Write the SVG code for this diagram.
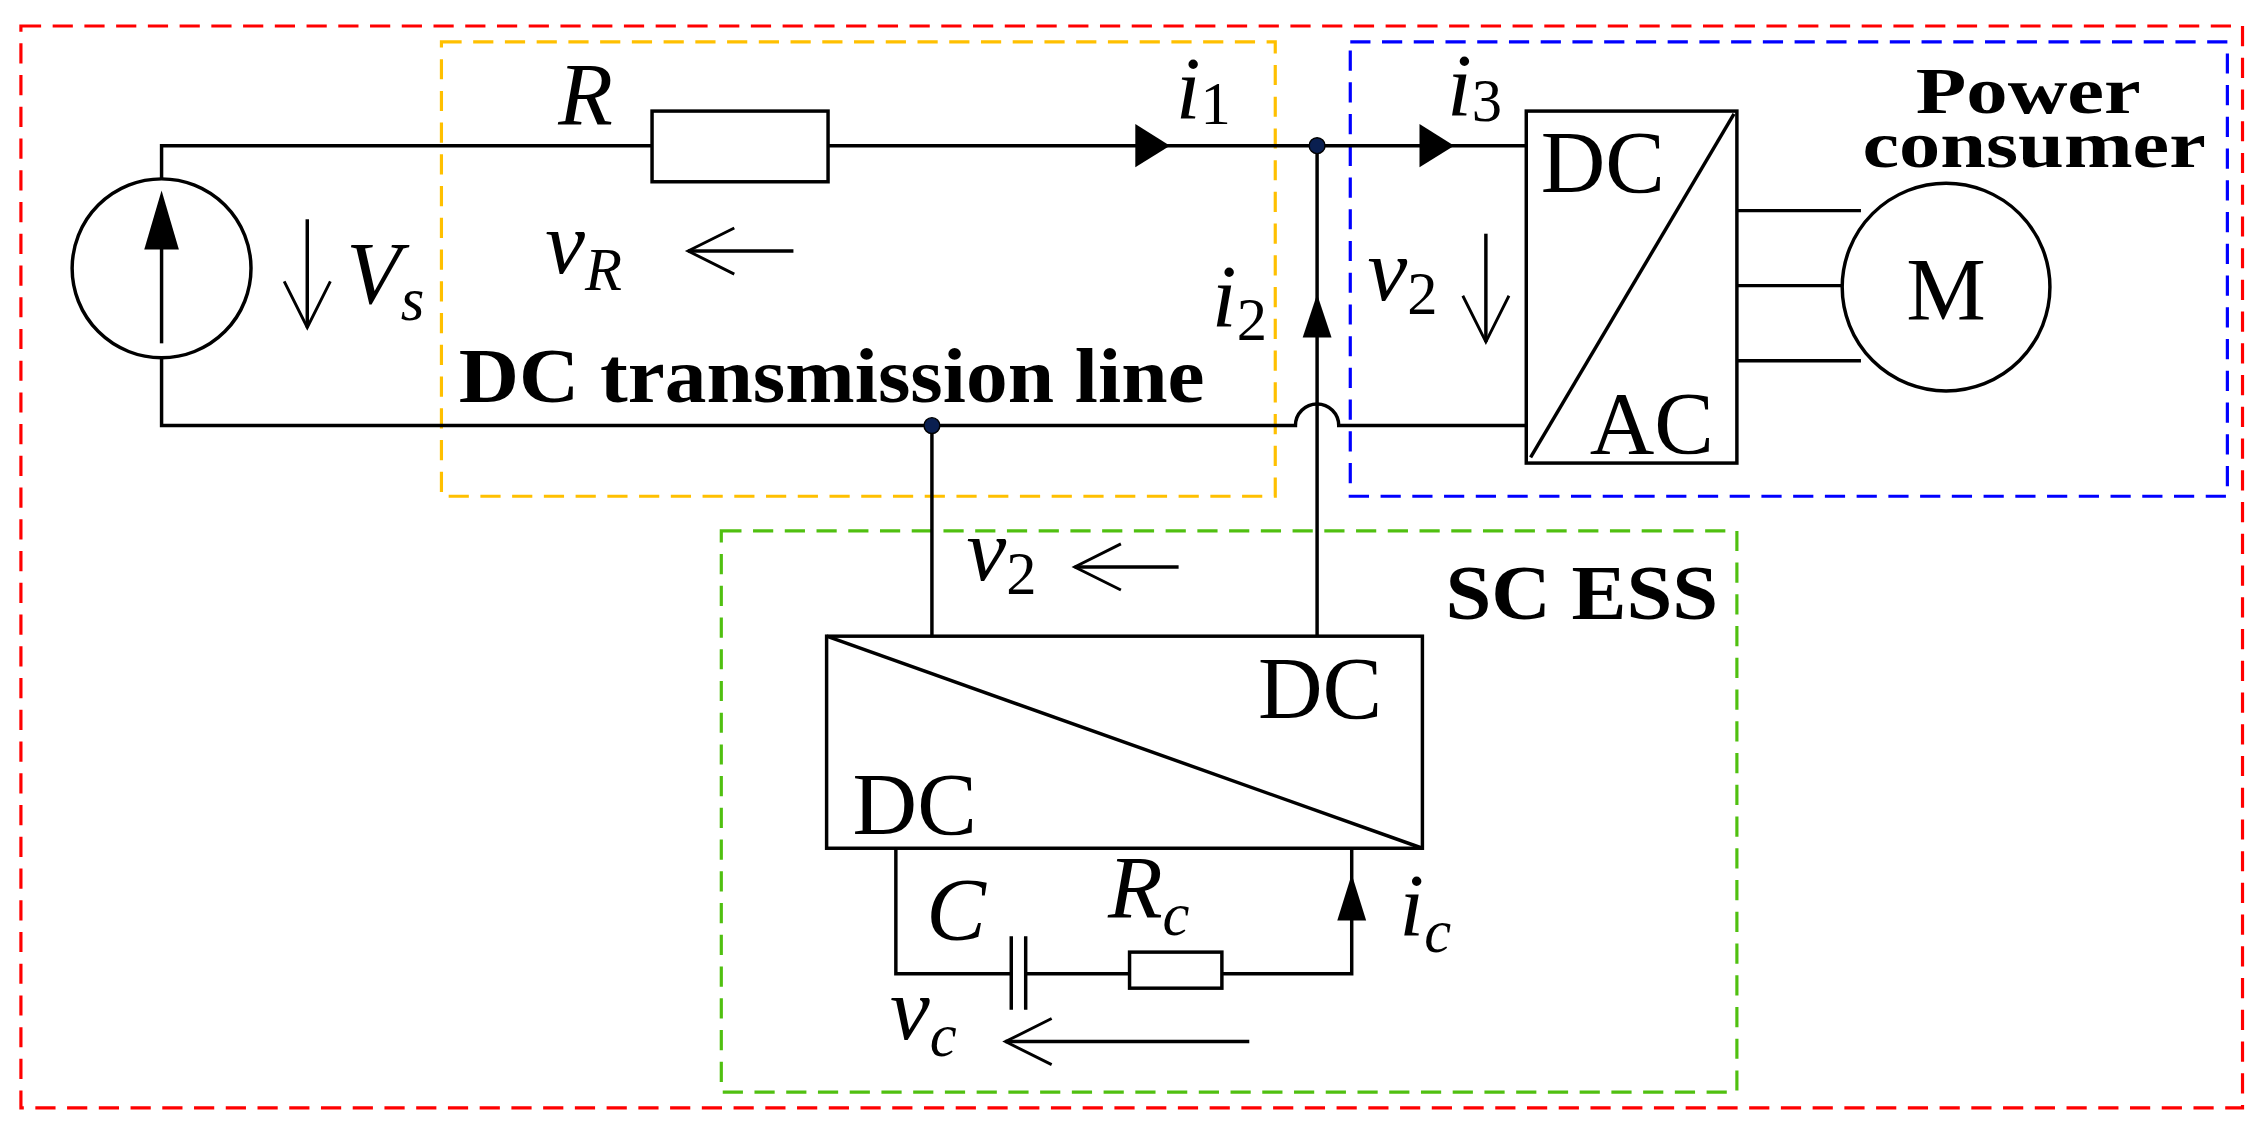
<svg xmlns="http://www.w3.org/2000/svg" width="2262" height="1128" viewBox="0 0 2262 1128">
<style>
.w{stroke:#000;stroke-width:2.4;fill:none}
.t{font-family:"Liberation Serif",serif;font-size:62px}
.i{font-style:italic}
.s{font-size:42px}
.b{font-weight:bold;font-size:54px}
.p{font-size:46px}
</style>
<defs>
<marker id="op" markerWidth="40" markerHeight="40" refX="36" refY="20" orient="auto" markerUnits="userSpaceOnUse"><path d="M4,4 L36,20 L4,36" stroke="#000" stroke-width="2" fill="none"/></marker>
</defs>
<rect width="2262" height="1128" fill="#fff"/>
<g transform="scale(1.4426)">
<g id="boxes" fill="none" stroke-width="2.2" stroke-dasharray="14,8">
<rect x="14.5" y="18" width="1540" height="750" stroke="#ff0000"/>
<rect x="306" y="29" width="578" height="315" stroke="#ffc000"/>
<rect x="936" y="29" width="608" height="315" stroke="#0000ff"/>
<rect x="500" y="368" width="704" height="389" stroke="#50c010"/>
</g>
<g id="connectors" class="w">
<path d="M112,124 V101 H452 M574,101 H1058"/>
<path d="M112,248 V295 H898 A15,15 0 0 1 928,295 H1058"/>
<path d="M913,101 V441 M646,295 V441"/>
<path d="M621,588 V675 H701 M711,675 H783 M847,675 H937 V588"/>
<path d="M1204,146 H1290 M1204,198 H1277 M1204,250 H1290"/>
<path d="M866,722 H697" marker-end="url(#op)"/>
<path d="M550,174 H477" marker-end="url(#op)"/>
<path d="M817,393 H745" marker-end="url(#op)"/>
<path d="M213,152 V227" marker-end="url(#op)"/>
<path d="M1030,162 V237" marker-end="url(#op)"/>
</g>
<g id="arrows" fill="#000">
<path d="M787,86 L811,101 L787,116Z"/>
<path d="M984,86 L1008,101 L984,116Z"/>
<path d="M903,234 L913,204 L923,234Z"/>
<path d="M927,638 L937,606 L947,638Z"/>
</g>
<g id="dots" fill="#0a1f50" stroke="#000" stroke-width="1">
<circle cx="913" cy="101" r="5.5"/><circle cx="646" cy="295" r="5.5"/>
</g>
<g id="source"><circle cx="112" cy="186" r="62" class="w" stroke-width="1.8"/><path d="M112,238 V170" class="w"/><path d="M100,173 L112,132 L124,173Z"/></g>
<g id="R"><rect x="452" y="77" width="122" height="49" class="w" fill="#fff"/></g>
<g id="dcac"><rect x="1058" y="77" width="146" height="244" class="w"/><path d="M1061,317 L1202,79" class="w" stroke-width="1.6"/>
<text x="1068" y="133" class="t">DC</text><text x="1102" y="314" class="t">AC</text></g>
<g id="motor"><circle cx="1349" cy="199" r="72" class="w" stroke-width="1.8"/><text x="1349" y="221" class="t" text-anchor="middle">M</text></g>
<g id="dcdc"><rect x="573" y="441" width="413" height="147" class="w"/><path d="M573,441 L986,588" class="w" stroke-width="1.8"/>
<text x="872" y="498" class="t">DC</text><text x="591" y="578" class="t">DC</text></g>
<g id="cap" class="w"><path d="M701,649 V700 M711,649 V700"/></g>
<g id="Rc"><rect x="783" y="660" width="64" height="25" class="w" fill="#fff"/></g>
<g id="labels" class="t i">
<text x="387" y="86">R</text>
<text x="815" y="82">i<tspan class="s" dy="4" font-style="normal">1</tspan></text>
<text x="1003" y="80">i<tspan class="s" dy="4" font-style="normal">3</tspan></text>
<text x="378" y="189">v<tspan class="s" dy="12">R</tspan></text>
<text x="240" y="210">V<tspan class="s" dy="12">s</tspan></text>
<text x="840" y="226">i<tspan class="s" dy="10" font-style="normal">2</tspan></text>
<text x="948" y="208">v<tspan class="s" dy="10" font-style="normal">2</tspan></text>
<text x="670" y="402">v<tspan class="s" dy="10" font-style="normal">2</tspan></text>
<text x="642" y="651">C</text>
<text x="768" y="636">R<tspan class="s" dy="12">c</tspan></text>
<text x="970" y="648">i<tspan class="s" dy="12">c</tspan></text>
<text x="617" y="720">v<tspan class="s" dy="12">c</tspan></text>
</g>
<g id="titles" class="t b">
<text x="1328" y="78" class="p" textLength="156" lengthAdjust="spacingAndGlyphs">Power</text>
<text x="1291" y="116" class="p" textLength="238" lengthAdjust="spacingAndGlyphs">consumer</text>
<text x="318" y="279" textLength="517" lengthAdjust="spacingAndGlyphs">DC transmission line</text>
<text x="1002" y="429" textLength="189" lengthAdjust="spacingAndGlyphs">SC ESS</text>
</g>
</g>
</svg>
